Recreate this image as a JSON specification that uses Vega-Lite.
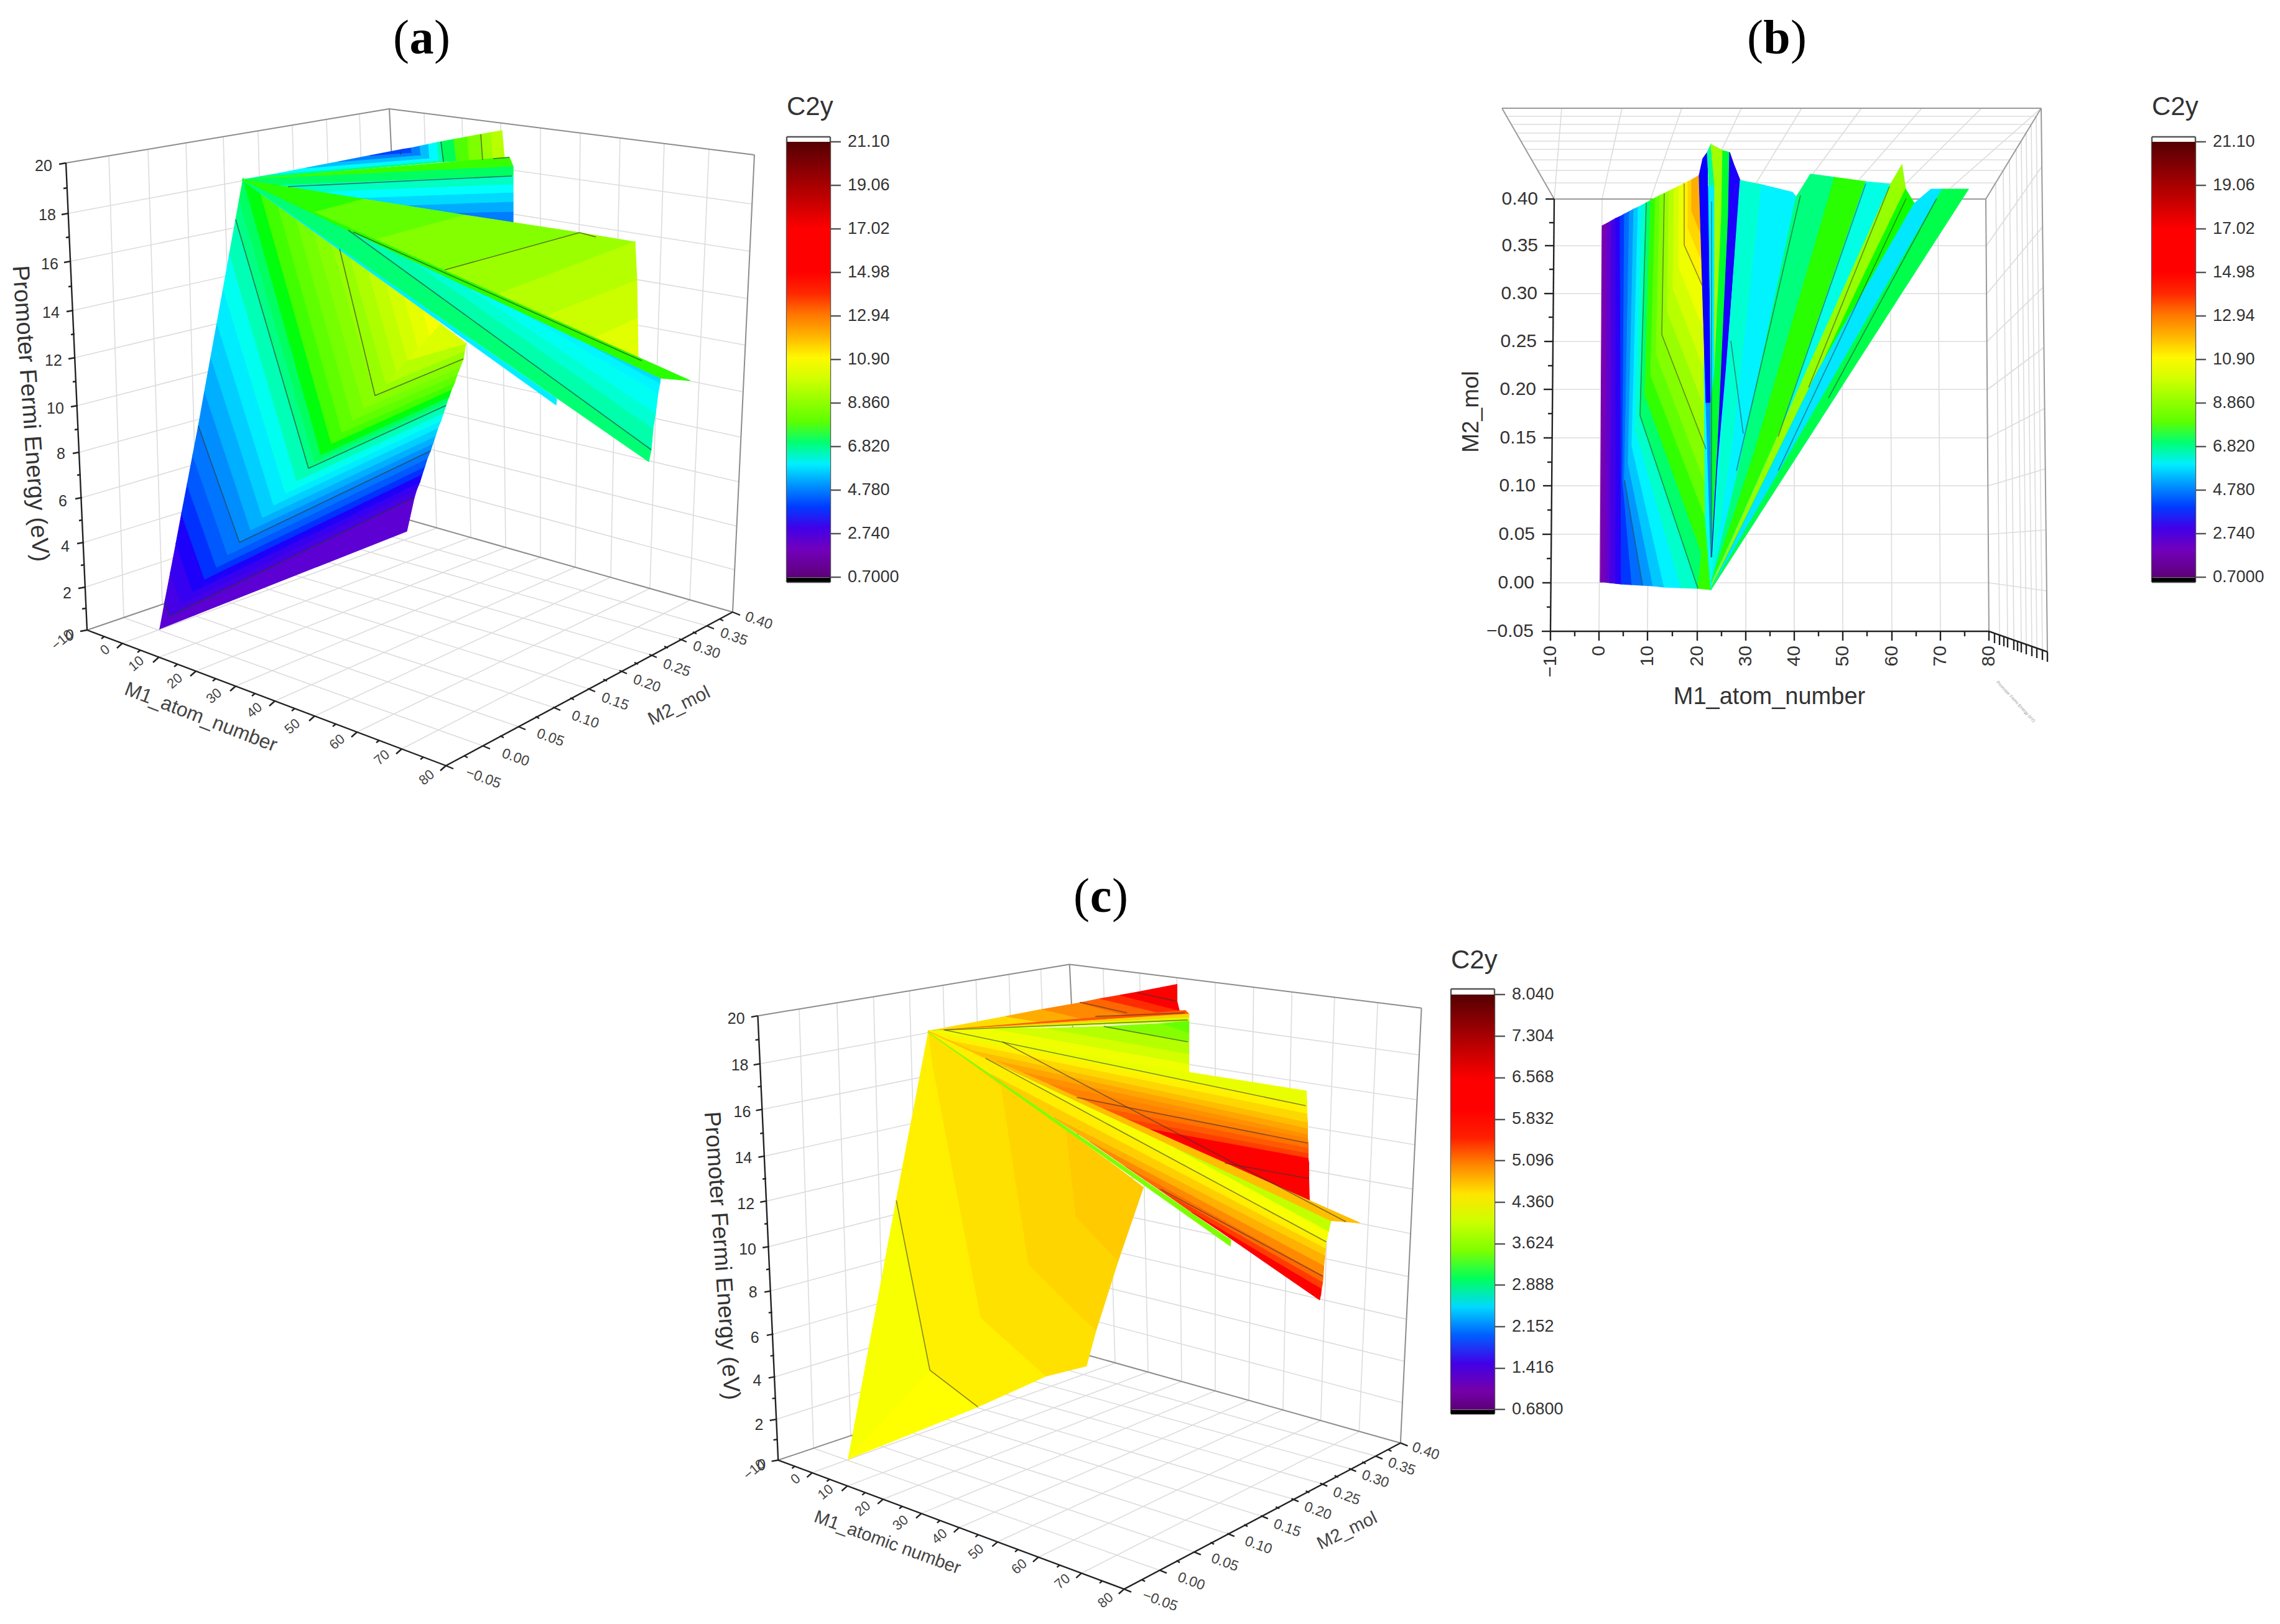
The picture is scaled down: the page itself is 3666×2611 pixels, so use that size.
{
"$schema":"https://vega.github.io/schema/vega-lite/v6.json",
"width":3666,"height":2611,"padding":0,"autosize":{"type":"fit","contains":"padding"},"background":"white",
"config":{"view":{"stroke":null}},
"datasets":{
"grid3":[
{"x":110,"y":343,"u":629,"v":246},{"x":114,"y":420,"u":632,"v":314},{"x":118,"y":499,"u":636,"v":383},{"x":121,"y":575,"u":639,"v":451},{"x":125,"y":652,"u":643,"v":518},{"x":128,"y":727,"u":646,"v":584},{"x":132,"y":800,"u":649,"v":648},{"x":135,"y":872,"u":651,"v":712},{"x":137,"y":944,"u":654,"v":774},
{"x":629,"y":246,"u":1209,"v":328},{"x":632,"y":314,"u":1206,"v":404},{"x":636,"y":383,"u":1202,"v":480},{"x":639,"y":451,"u":1199,"v":555},{"x":643,"y":518,"u":1195,"v":630},{"x":646,"y":584,"u":1192,"v":703},{"x":649,"y":648,"u":1189,"v":775},{"x":651,"y":712,"u":1185,"v":846},{"x":654,"y":774,"u":1181,"v":916},
{"x":175,"y":250,"u":199,"v":993},{"x":238,"y":240,"u":261,"v":972},{"x":299,"y":229,"u":319,"v":952},{"x":359,"y":219,"u":379,"v":931},{"x":415,"y":210,"u":434,"v":913},{"x":470,"y":201,"u":490,"v":893},{"x":525,"y":192,"u":546,"v":874},{"x":578,"y":183,"u":602,"v":855},
{"x":682,"y":182,"u":702,"v":849},{"x":743,"y":190,"u":757,"v":864},{"x":805,"y":198,"u":813,"v":880},{"x":869,"y":206,"u":869,"v":896},{"x":933,"y":214,"u":925,"v":912},{"x":997,"y":222,"u":982,"v":928},{"x":1068,"y":231,"u":1045,"v":946},{"x":1140,"y":240,"u":1109,"v":965},
{"x":197,"y":1034,"u":702,"v":849},{"x":255,"y":1057,"u":757,"v":864},{"x":315,"y":1079,"u":813,"v":880},{"x":379,"y":1103,"u":869,"v":896},{"x":442,"y":1127,"u":925,"v":912},{"x":506,"y":1151,"u":982,"v":928},{"x":574,"y":1177,"u":1045,"v":946},{"x":646,"y":1204,"u":1109,"v":965},
{"x":199,"y":993,"u":776,"v":1199},{"x":261,"y":972,"u":833,"v":1168},{"x":319,"y":952,"u":889,"v":1137},{"x":379,"y":931,"u":945,"v":1107},{"x":434,"y":913,"u":996,"v":1078},{"x":490,"y":893,"u":1044,"v":1052},{"x":546,"y":874,"u":1092,"v":1027},{"x":602,"y":855,"u":1136,"v":1006}],
"box3":[{"x":106,"y":262,"u":626,"v":175},{"x":626,"y":175,"u":1213,"v":249},{"x":626,"y":175,"u":658,"v":836},{"x":658,"y":836,"u":1178,"v":984},{"x":140,"y":1013,"u":658,"v":836},{"x":1213,"y":249,"u":1178,"v":984}],
"ax3":[{"x":106,"y":262,"u":140,"v":1013},{"x":140,"y":1013,"u":717,"v":1231},{"x":717,"y":1231,"u":1178,"v":984},
{"x":106,"y":262,"u":95,"v":264},{"x":110,"y":343,"u":99,"v":345},{"x":114,"y":420,"u":103,"v":422},{"x":118,"y":499,"u":107,"v":501},{"x":121,"y":575,"u":110,"v":577},{"x":125,"y":652,"u":114,"v":654},{"x":128,"y":727,"u":117,"v":729},{"x":132,"y":800,"u":121,"v":802},{"x":135,"y":872,"u":124,"v":874},{"x":137,"y":944,"u":126,"v":946},{"x":140,"y":1013,"u":129,"v":1015},
{"x":108,"y":302,"u":102,"v":303},{"x":112,"y":381,"u":106,"v":382},{"x":116,"y":460,"u":110,"v":461},{"x":120,"y":537,"u":114,"v":538},{"x":123,"y":613,"u":117,"v":614},{"x":126,"y":690,"u":120,"v":691},{"x":130,"y":763,"u":124,"v":764},{"x":133,"y":836,"u":127,"v":837},{"x":136,"y":908,"u":130,"v":909},{"x":138,"y":978,"u":132,"v":979},
{"x":197,"y":1034,"u":188,"v":1042},{"x":255,"y":1057,"u":246,"v":1065},{"x":315,"y":1079,"u":306,"v":1087},{"x":379,"y":1103,"u":370,"v":1111},{"x":442,"y":1127,"u":433,"v":1135},{"x":506,"y":1151,"u":497,"v":1159},{"x":574,"y":1177,"u":565,"v":1185},{"x":646,"y":1204,"u":637,"v":1212},{"x":717,"y":1231,"u":708,"v":1239},
{"x":168,"y":1023,"u":163,"v":1027},{"x":226,"y":1045,"u":221,"v":1049},{"x":285,"y":1068,"u":280,"v":1072},{"x":347,"y":1091,"u":342,"v":1095},{"x":410,"y":1115,"u":405,"v":1119},{"x":474,"y":1139,"u":469,"v":1143},{"x":540,"y":1164,"u":535,"v":1168},{"x":610,"y":1190,"u":605,"v":1194},{"x":681,"y":1217,"u":676,"v":1221},
{"x":717,"y":1231,"u":729,"v":1236},{"x":776,"y":1199,"u":788,"v":1204},{"x":833,"y":1168,"u":845,"v":1173},{"x":889,"y":1137,"u":901,"v":1142},{"x":945,"y":1107,"u":957,"v":1112},{"x":996,"y":1078,"u":1008,"v":1083},{"x":1044,"y":1052,"u":1056,"v":1057},{"x":1092,"y":1027,"u":1104,"v":1032},{"x":1136,"y":1006,"u":1148,"v":1011},{"x":1178,"y":984,"u":1190,"v":989},
{"x":746,"y":1215,"u":752,"v":1218},{"x":804,"y":1183,"u":810,"v":1186},{"x":861,"y":1152,"u":867,"v":1155},{"x":917,"y":1122,"u":923,"v":1125},{"x":970,"y":1092,"u":976,"v":1095},{"x":1020,"y":1065,"u":1026,"v":1068},{"x":1068,"y":1039,"u":1074,"v":1042},{"x":1114,"y":1016,"u":1120,"v":1019},{"x":1157,"y":995,"u":1163,"v":998}],
"zlab":[{"x":70,"y":267,"t":"20"},{"x":76,"y":346,"t":"18"},{"x":80,"y":425,"t":"16"},{"x":82,"y":503,"t":"14"},{"x":86,"y":580,"t":"12"},{"x":89,"y":657,"t":"10"},{"x":98,"y":730,"t":"8"},{"x":101,"y":806,"t":"6"},{"x":105,"y":879,"t":"4"},{"x":108,"y":954,"t":"2"},{"x":112,"y":1022,"t":"0"}],
"m1lab":[{"x":100,"y":1029,"t":"−10"},{"x":169,"y":1045,"t":"0"},{"x":219,"y":1067,"t":"10"},{"x":281,"y":1095,"t":"20"},{"x":344,"y":1119,"t":"30"},{"x":409,"y":1142,"t":"40"},{"x":470,"y":1168,"t":"50"},{"x":542,"y":1193,"t":"60"},{"x":614,"y":1218,"t":"70"},{"x":686,"y":1250,"t":"80"}],
"m2lab":[{"x":1220,"y":998,"t":"0.40"},{"x":1180,"y":1024,"t":"0.35"},{"x":1136,"y":1045,"t":"0.30"},{"x":1088,"y":1074,"t":"0.25"},{"x":1040,"y":1099,"t":"0.20"},{"x":989,"y":1128,"t":"0.15"},{"x":941,"y":1157,"t":"0.10"},{"x":885,"y":1186,"t":"0.05"},{"x":829,"y":1218,"t":"0.00"},{"x":777,"y":1251,"t":"−0.05"}],
"surfA":[
{"p":1,"x":257,"y":1011,"c":2.58},{"p":1,"x":273,"y":991,"c":2.58},{"p":1,"x":265,"y":968,"c":2.58},
{"p":2,"x":265,"y":968,"c":2.91},{"p":2,"x":273,"y":991,"c":2.91},{"p":2,"x":291,"y":971,"c":2.91},{"p":2,"x":274,"y":921,"c":2.91},
{"p":3,"x":274,"y":921,"c":3.25},{"p":3,"x":291,"y":971,"c":3.25},{"p":3,"x":310,"y":951,"c":3.25},{"p":3,"x":283,"y":874,"c":3.25},
{"p":4,"x":283,"y":874,"c":3.59},{"p":4,"x":310,"y":951,"c":3.59},{"p":4,"x":329,"y":931,"c":3.59},{"p":4,"x":292,"y":826,"c":3.59},
{"p":5,"x":292,"y":826,"c":3.93},{"p":5,"x":329,"y":931,"c":3.93},{"p":5,"x":348,"y":912,"c":3.93},{"p":5,"x":301,"y":779,"c":3.93},
{"p":6,"x":301,"y":779,"c":4.27},{"p":6,"x":348,"y":912,"c":4.27},{"p":6,"x":366,"y":892,"c":4.27},{"p":6,"x":310,"y":732,"c":4.27},
{"p":7,"x":310,"y":732,"c":4.61},{"p":7,"x":366,"y":892,"c":4.61},{"p":7,"x":385,"y":872,"c":4.61},{"p":7,"x":319,"y":685,"c":4.61},
{"p":8,"x":319,"y":685,"c":4.95},{"p":8,"x":385,"y":872,"c":4.95},{"p":8,"x":403,"y":852,"c":4.95},{"p":8,"x":329,"y":629,"c":4.95},
{"p":9,"x":329,"y":629,"c":5.29},{"p":9,"x":403,"y":852,"c":5.29},{"p":9,"x":422,"y":832,"c":5.29},{"p":9,"x":339,"y":574,"c":5.29},
{"p":10,"x":339,"y":574,"c":5.63},{"p":10,"x":422,"y":832,"c":5.63},{"p":10,"x":440,"y":812,"c":5.63},{"p":10,"x":349,"y":519,"c":5.63},
{"p":11,"x":349,"y":519,"c":5.97},{"p":11,"x":440,"y":812,"c":5.97},{"p":11,"x":459,"y":793,"c":5.97},{"p":11,"x":359,"y":464,"c":5.97},
{"p":12,"x":359,"y":464,"c":6.31},{"p":12,"x":459,"y":793,"c":6.31},{"p":12,"x":477,"y":773,"c":6.31},{"p":12,"x":369,"y":408,"c":6.31},
{"p":13,"x":369,"y":408,"c":6.65},{"p":13,"x":477,"y":773,"c":6.65},{"p":13,"x":496,"y":753,"c":6.65},{"p":13,"x":379,"y":353,"c":6.65},
{"p":14,"x":379,"y":353,"c":6.91},{"p":14,"x":496,"y":753,"c":6.91},{"p":14,"x":506,"y":742,"c":6.91},{"p":14,"x":385,"y":320,"c":6.91},
{"p":15,"x":385,"y":320,"c":7.1},{"p":15,"x":506,"y":742,"c":7.1},{"p":15,"x":516,"y":731,"c":7.1},{"p":15,"x":391,"y":287,"c":7.1},
{"p":16,"x":391,"y":287,"c":7.36},{"p":16,"x":516,"y":731,"c":7.36},{"p":16,"x":533,"y":713,"c":7.36},{"p":16,"x":418,"y":307,"c":7.36},
{"p":17,"x":418,"y":307,"c":7.68},{"p":17,"x":533,"y":713,"c":7.68},{"p":17,"x":550,"y":695,"c":7.68},{"p":17,"x":446,"y":327,"c":7.68},
{"p":18,"x":446,"y":327,"c":8.01},{"p":18,"x":550,"y":695,"c":8.01},{"p":18,"x":567,"y":675,"c":8.01},{"p":18,"x":475,"y":348,"c":8.01},
{"p":19,"x":475,"y":348,"c":8.35},{"p":19,"x":567,"y":675,"c":8.35},{"p":19,"x":585,"y":656,"c":8.35},{"p":19,"x":504,"y":370,"c":8.35},
{"p":20,"x":504,"y":370,"c":8.69},{"p":20,"x":585,"y":656,"c":8.69},{"p":20,"x":603,"y":636,"c":8.69},{"p":20,"x":533,"y":391,"c":8.69},
{"p":21,"x":533,"y":391,"c":9.03},{"p":21,"x":603,"y":636,"c":9.03},{"p":21,"x":621,"y":617,"c":9.03},{"p":21,"x":563,"y":413,"c":9.03},
{"p":22,"x":563,"y":413,"c":9.37},{"p":22,"x":621,"y":617,"c":9.37},{"p":22,"x":638,"y":598,"c":9.37},{"p":22,"x":592,"y":434,"c":9.37},
{"p":23,"x":592,"y":434,"c":9.71},{"p":23,"x":638,"y":598,"c":9.71},{"p":23,"x":656,"y":579,"c":9.71},{"p":23,"x":621,"y":455,"c":9.71},
{"p":24,"x":621,"y":455,"c":10.05},{"p":24,"x":656,"y":579,"c":10.05},{"p":24,"x":673,"y":559,"c":10.05},{"p":24,"x":650,"y":476,"c":10.05},
{"p":25,"x":650,"y":476,"c":10.39},{"p":25,"x":673,"y":559,"c":10.39},{"p":25,"x":691,"y":540,"c":10.39},{"p":25,"x":680,"y":498,"c":10.39},
{"p":26,"x":680,"y":498,"c":10.73},{"p":26,"x":691,"y":540,"c":10.73},{"p":26,"x":709,"y":521,"c":10.73},
{"p":101,"x":257,"y":1011,"c":2.5},{"p":101,"x":654,"y":854,"c":2.5},{"p":101,"x":666,"y":800,"c":2.5},{"p":101,"x":273,"y":991,"c":2.5},
{"p":102,"x":273,"y":991,"c":2.91},{"p":102,"x":666,"y":800,"c":2.91},{"p":102,"x":670,"y":787,"c":2.91},{"p":102,"x":291,"y":971,"c":2.91},
{"p":103,"x":291,"y":971,"c":3.25},{"p":103,"x":670,"y":787,"c":3.25},{"p":103,"x":675,"y":775,"c":3.25},{"p":103,"x":310,"y":951,"c":3.25},
{"p":104,"x":310,"y":951,"c":3.59},{"p":104,"x":675,"y":775,"c":3.59},{"p":104,"x":679,"y":762,"c":3.59},{"p":104,"x":329,"y":931,"c":3.59},
{"p":105,"x":329,"y":931,"c":3.93},{"p":105,"x":679,"y":762,"c":3.93},{"p":105,"x":683,"y":750,"c":3.93},{"p":105,"x":348,"y":912,"c":3.93},
{"p":106,"x":348,"y":912,"c":4.27},{"p":106,"x":683,"y":750,"c":4.27},{"p":106,"x":687,"y":737,"c":4.27},{"p":106,"x":366,"y":892,"c":4.27},
{"p":107,"x":366,"y":892,"c":4.61},{"p":107,"x":687,"y":737,"c":4.61},{"p":107,"x":692,"y":725,"c":4.61},{"p":107,"x":385,"y":872,"c":4.61},
{"p":108,"x":385,"y":872,"c":4.95},{"p":108,"x":692,"y":725,"c":4.95},{"p":108,"x":696,"y":713,"c":4.95},{"p":108,"x":403,"y":852,"c":4.95},
{"p":109,"x":403,"y":852,"c":5.29},{"p":109,"x":696,"y":713,"c":5.29},{"p":109,"x":700,"y":701,"c":5.29},{"p":109,"x":422,"y":832,"c":5.29},
{"p":110,"x":422,"y":832,"c":5.63},{"p":110,"x":700,"y":701,"c":5.63},{"p":110,"x":704,"y":688,"c":5.63},{"p":110,"x":440,"y":812,"c":5.63},
{"p":111,"x":440,"y":812,"c":5.97},{"p":111,"x":704,"y":688,"c":5.97},{"p":111,"x":709,"y":676,"c":5.97},{"p":111,"x":459,"y":793,"c":5.97},
{"p":112,"x":459,"y":793,"c":6.31},{"p":112,"x":709,"y":676,"c":6.31},{"p":112,"x":713,"y":664,"c":6.31},{"p":112,"x":477,"y":773,"c":6.31},
{"p":113,"x":477,"y":773,"c":6.65},{"p":113,"x":713,"y":664,"c":6.65},{"p":113,"x":717,"y":652,"c":6.65},{"p":113,"x":496,"y":753,"c":6.65},
{"p":114,"x":496,"y":753,"c":6.91},{"p":114,"x":717,"y":652,"c":6.91},{"p":114,"x":719,"y":645,"c":6.91},{"p":114,"x":506,"y":742,"c":6.91},
{"p":115,"x":506,"y":742,"c":7.1},{"p":115,"x":719,"y":645,"c":7.1},{"p":115,"x":722,"y":638,"c":7.1},{"p":115,"x":516,"y":731,"c":7.1},
{"p":116,"x":516,"y":731,"c":7.36},{"p":116,"x":722,"y":638,"c":7.36},{"p":116,"x":726,"y":626,"c":7.36},{"p":116,"x":533,"y":713,"c":7.36},
{"p":117,"x":533,"y":713,"c":7.68},{"p":117,"x":726,"y":626,"c":7.68},{"p":117,"x":731,"y":615,"c":7.68},{"p":117,"x":550,"y":695,"c":7.68},
{"p":118,"x":550,"y":695,"c":8.01},{"p":118,"x":731,"y":615,"c":8.01},{"p":118,"x":735,"y":602,"c":8.01},{"p":118,"x":567,"y":675,"c":8.01},
{"p":119,"x":567,"y":675,"c":8.35},{"p":119,"x":735,"y":602,"c":8.35},{"p":119,"x":740,"y":590,"c":8.35},{"p":119,"x":585,"y":656,"c":8.35},
{"p":120,"x":585,"y":656,"c":8.69},{"p":120,"x":740,"y":590,"c":8.69},{"p":120,"x":745,"y":577,"c":8.69},{"p":120,"x":603,"y":636,"c":8.69},
{"p":121,"x":603,"y":636,"c":9.03},{"p":121,"x":745,"y":577,"c":9.03},{"p":121,"x":747,"y":564,"c":9.03},{"p":121,"x":621,"y":617,"c":9.03},
{"p":122,"x":621,"y":617,"c":9.5},{"p":122,"x":747,"y":564,"c":9.5},{"p":122,"x":749,"y":552,"c":9.5},{"p":122,"x":656,"y":579,"c":9.5},
{"p":123,"x":656,"y":579,"c":10.2},{"p":123,"x":749,"y":552,"c":10.2},{"p":123,"x":709,"y":521,"c":10.2},
{"p":28,"x":389,"y":289,"c":6.9},{"p":28,"x":441,"y":280,"c":6.9},{"p":28,"x":706,"y":258,"c":6.9},{"p":28,"x":713,"y":260,"c":6.9},
{"p":29,"x":492,"y":270,"c":6.15},{"p":29,"x":441,"y":280,"c":6.15},{"p":29,"x":706,"y":258,"c":6.15},{"p":29,"x":691,"y":254,"c":6.15},
{"p":30,"x":544,"y":260,"c":5.45},{"p":30,"x":492,"y":270,"c":5.45},{"p":30,"x":691,"y":254,"c":5.45},{"p":30,"x":677,"y":249,"c":5.45},
{"p":31,"x":595,"y":250,"c":4.75},{"p":31,"x":544,"y":260,"c":4.75},{"p":31,"x":677,"y":249,"c":4.75},{"p":31,"x":662,"y":245,"c":4.75},
{"p":32,"x":647,"y":240,"c":4.05},{"p":32,"x":595,"y":250,"c":4.05},{"p":32,"x":662,"y":245,"c":4.05},
{"p":33,"x":647,"y":240,"c":4.05},{"p":33,"x":662,"y":245,"c":4.05},{"p":33,"x":661,"y":238,"c":4.05},
{"p":34,"x":661,"y":238,"c":4.75},{"p":34,"x":662,"y":245,"c":4.75},{"p":34,"x":677,"y":249,"c":4.75},{"p":34,"x":675,"y":235,"c":4.75},
{"p":35,"x":675,"y":235,"c":5.45},{"p":35,"x":677,"y":249,"c":5.45},{"p":35,"x":691,"y":254,"c":5.45},{"p":35,"x":689,"y":232,"c":5.45},
{"p":36,"x":689,"y":232,"c":6.15},{"p":36,"x":691,"y":254,"c":6.15},{"p":36,"x":706,"y":258,"c":6.15},{"p":36,"x":703,"y":229,"c":6.15},
{"p":37,"x":703,"y":229,"c":6.7},{"p":37,"x":706,"y":258,"c":6.7},{"p":37,"x":713,"y":260,"c":6.7},{"p":37,"x":709,"y":228,"c":6.7},
{"p":38,"x":709,"y":228,"c":7.15},{"p":38,"x":713,"y":260,"c":7.15},{"p":38,"x":734,"y":259,"c":7.15},{"p":38,"x":730,"y":224,"c":7.15},
{"p":39,"x":730,"y":224,"c":7.85},{"p":39,"x":734,"y":259,"c":7.85},{"p":39,"x":755,"y":258,"c":7.85},{"p":39,"x":752,"y":220,"c":7.85},
{"p":40,"x":752,"y":220,"c":8.5},{"p":40,"x":755,"y":258,"c":8.5},{"p":40,"x":776,"y":257,"c":8.5},{"p":40,"x":773,"y":216,"c":8.5},
{"p":41,"x":773,"y":216,"c":9.1},{"p":41,"x":776,"y":257,"c":9.1},{"p":41,"x":793,"y":256,"c":9.1},{"p":41,"x":790,"y":213,"c":9.1},
{"p":42,"x":790,"y":213,"c":9.55},{"p":42,"x":793,"y":256,"c":9.55},{"p":42,"x":811,"y":255,"c":9.55},{"p":42,"x":807,"y":210,"c":9.55},
{"p":43,"x":389,"y":289,"c":7.6},{"p":43,"x":793,"y":255,"c":7.6},{"p":43,"x":819,"y":253,"c":7.6},{"p":43,"x":825,"y":268,"c":7.6},
{"p":44,"x":389,"y":289,"c":7.1},{"p":44,"x":825,"y":268,"c":7.1},{"p":44,"x":825,"y":283,"c":7.1},{"p":44,"x":449,"y":298,"c":7.1},
{"p":45,"x":449,"y":298,"c":6.6},{"p":45,"x":825,"y":283,"c":6.6},{"p":45,"x":825,"y":297,"c":6.6},{"p":45,"x":514,"y":309,"c":6.6},
{"p":46,"x":514,"y":309,"c":6.2},{"p":46,"x":825,"y":297,"c":6.2},{"p":46,"x":825,"y":310,"c":6.2},{"p":46,"x":576,"y":319,"c":6.2},
{"p":47,"x":576,"y":319,"c":5.75},{"p":47,"x":825,"y":310,"c":5.75},{"p":47,"x":825,"y":325,"c":5.75},{"p":47,"x":653,"y":331,"c":5.75},
{"p":48,"x":653,"y":331,"c":5.25},{"p":48,"x":825,"y":325,"c":5.25},{"p":48,"x":825,"y":341,"c":5.25},{"p":48,"x":732,"y":343,"c":5.25},
{"p":49,"x":732,"y":343,"c":4.7},{"p":49,"x":825,"y":341,"c":4.7},{"p":49,"x":825,"y":358,"c":4.7},
{"p":50,"x":389,"y":289,"c":7.5},{"p":50,"x":585,"y":320,"c":7.5},{"p":50,"x":507,"y":341,"c":7.5},
{"p":51,"x":507,"y":341,"c":8.05},{"p":51,"x":585,"y":320,"c":8.05},{"p":51,"x":748,"y":346,"c":8.05},{"p":51,"x":604,"y":385,"c":8.05},
{"p":52,"x":604,"y":385,"c":8.6},{"p":52,"x":748,"y":346,"c":8.6},{"p":52,"x":932,"y":374,"c":8.6},{"p":52,"x":715,"y":434,"c":8.6},
{"p":53,"x":715,"y":434,"c":9.1},{"p":53,"x":932,"y":374,"c":9.1},{"p":53,"x":1021,"y":389,"c":9.1},{"p":53,"x":800,"y":473,"c":9.1},
{"p":54,"x":800,"y":473,"c":9.5},{"p":54,"x":1021,"y":389,"c":9.5},{"p":54,"x":1024,"y":451,"c":9.5},{"p":54,"x":878,"y":508,"c":9.5},
{"p":55,"x":878,"y":508,"c":9.9},{"p":55,"x":1024,"y":451,"c":9.9},{"p":55,"x":1025,"y":512,"c":9.9},{"p":55,"x":956,"y":543,"c":9.9},
{"p":56,"x":956,"y":543,"c":10.3},{"p":56,"x":1025,"y":512,"c":10.3},{"p":56,"x":1026,"y":574,"c":10.3},
{"p":57,"x":389,"y":289,"c":6},{"p":57,"x":895,"y":641,"c":6},{"p":57,"x":894,"y":651,"c":6},
{"p":58,"x":389,"y":289,"c":7},{"p":58,"x":560,"y":370,"c":7},{"p":58,"x":1047,"y":723,"c":7},{"p":58,"x":1043,"y":742,"c":7},
{"p":59,"x":560,"y":370,"c":6.7},{"p":59,"x":658,"y":416,"c":6.7},{"p":59,"x":1050,"y":689,"c":6.7},{"p":59,"x":1047,"y":723,"c":6.7},
{"p":60,"x":658,"y":416,"c":6.5},{"p":60,"x":748,"y":459,"c":6.5},{"p":60,"x":1054,"y":664,"c":6.5},{"p":60,"x":1050,"y":689,"c":6.5},
{"p":61,"x":748,"y":459,"c":6.3},{"p":61,"x":838,"y":502,"c":6.3},{"p":61,"x":1058,"y":632,"c":6.3},{"p":61,"x":1054,"y":664,"c":6.3},
{"p":62,"x":838,"y":502,"c":6.07},{"p":62,"x":949,"y":555,"c":6.07},{"p":62,"x":1061,"y":616,"c":6.07},{"p":62,"x":1058,"y":632,"c":6.07},
{"p":63,"x":949,"y":555,"c":5.8},{"p":63,"x":1062,"y":608,"c":5.8},{"p":63,"x":1061,"y":616,"c":5.8},
{"p":64,"x":389,"y":289,"c":7.5},{"p":64,"x":1110,"y":612,"c":7.5},{"p":64,"x":1062,"y":608,"c":7.5}],
"contA":[{"x":265,"y":968,"u":273,"v":991},{"x":273,"y":991,"u":666,"v":800},{"x":319,"y":685,"u":385,"v":872},{"x":385,"y":872,"u":692,"v":725},{"x":379,"y":353,"u":496,"v":753},{"x":496,"y":753,"u":717,"v":652},{"x":546,"y":400,"u":603,"v":636},{"x":603,"y":636,"u":745,"v":577},{"x":644,"y":243,"u":644,"v":249},{"x":709,"y":228,"u":713,"v":260},{"x":773,"y":216,"u":776,"v":257},{"x":463,"y":300,"u":823,"v":283},{"x":793,"y":255,"u":819,"v":253},{"x":715,"y":434,"u":932,"v":374},{"x":932,"y":374,"u":958,"v":381},{"x":568,"y":373,"u":1032,"v":580},{"x":560,"y":370,"u":1047,"v":723}],
"surfC":[
{"p":1,"x":391,"y":287,"c":4.44},{"p":1,"x":337,"y":574,"c":4.44},{"p":1,"x":393,"y":861,"c":4.44},{"p":1,"x":478,"y":772,"c":4.44},{"p":1,"x":397,"y":341,"c":4.44},
{"p":2,"x":337,"y":574,"c":4.3},{"p":2,"x":257,"y":1011,"c":4.3},{"p":2,"x":393,"y":861,"c":4.3},
{"p":3,"x":391,"y":287,"c":4.52},{"p":3,"x":397,"y":341,"c":4.52},{"p":3,"x":478,"y":772,"c":4.52},{"p":3,"x":558,"y":683,"c":4.52},{"p":3,"x":512,"y":381,"c":4.52},
{"p":4,"x":391,"y":287,"c":4.58},{"p":4,"x":512,"y":381,"c":4.58},{"p":4,"x":558,"y":683,"c":4.58},{"p":4,"x":637,"y":602,"c":4.58},{"p":4,"x":620,"y":450,"c":4.58},
{"p":5,"x":391,"y":287,"c":4.64},{"p":5,"x":620,"y":450,"c":4.64},{"p":5,"x":637,"y":602,"c":4.64},{"p":5,"x":709,"y":521,"c":4.64},
{"p":6,"x":257,"y":1011,"c":4.36},{"p":6,"x":393,"y":861,"c":4.36},{"p":6,"x":473,"y":923,"c":4.36},
{"p":7,"x":393,"y":861,"c":4.44},{"p":7,"x":478,"y":772,"c":4.44},{"p":7,"x":587,"y":871,"c":4.44},{"p":7,"x":473,"y":923,"c":4.44},
{"p":8,"x":478,"y":772,"c":4.52},{"p":8,"x":558,"y":683,"c":4.52},{"p":8,"x":670,"y":794,"c":4.52},{"p":8,"x":654,"y":854,"c":4.52},{"p":8,"x":587,"y":871,"c":4.52},
{"p":9,"x":558,"y":683,"c":4.58},{"p":9,"x":637,"y":602,"c":4.58},{"p":9,"x":707,"y":676,"c":4.58},{"p":9,"x":670,"y":794,"c":4.58},
{"p":10,"x":637,"y":602,"c":4.64},{"p":10,"x":709,"y":521,"c":4.64},{"p":10,"x":749,"y":552,"c":4.64},{"p":10,"x":707,"y":676,"c":4.64},
{"p":11,"x":390,"y":288,"c":4.55},{"p":11,"x":520,"y":263,"c":4.55},{"p":11,"x":576,"y":272,"c":4.55},
{"p":12,"x":520,"y":263,"c":4.8},{"p":12,"x":581,"y":251,"c":4.8},{"p":12,"x":649,"y":267,"c":4.8},{"p":12,"x":576,"y":272,"c":4.8},
{"p":13,"x":581,"y":251,"c":5},{"p":13,"x":643,"y":240,"c":5},{"p":13,"x":722,"y":261,"c":5},{"p":13,"x":649,"y":267,"c":5},
{"p":14,"x":643,"y":240,"c":5.22},{"p":14,"x":677,"y":233,"c":5.22},{"p":14,"x":773,"y":256,"c":5.22},{"p":14,"x":722,"y":261,"c":5.22},
{"p":15,"x":677,"y":233,"c":5.47},{"p":15,"x":711,"y":227,"c":5.47},{"p":15,"x":809,"y":253,"c":5.47},{"p":15,"x":773,"y":256,"c":5.47},
{"p":16,"x":711,"y":227,"c":5.72},{"p":16,"x":739,"y":222,"c":5.72},{"p":16,"x":805,"y":237,"c":5.72},{"p":16,"x":809,"y":253,"c":5.72},
{"p":17,"x":739,"y":222,"c":6},{"p":17,"x":805,"y":209,"c":6},{"p":17,"x":805,"y":237,"c":6},
{"p":18,"x":390,"y":288,"c":5.3},{"p":18,"x":793,"y":255,"c":5.3},{"p":18,"x":819,"y":253,"c":5.3},{"p":18,"x":825,"y":259,"c":5.3},
{"p":19,"x":390,"y":288,"c":4.6},{"p":19,"x":825,"y":259,"c":4.6},{"p":19,"x":825,"y":265,"c":4.6},
{"p":20,"x":390,"y":288,"c":4.05},{"p":20,"x":825,"y":265,"c":4.05},{"p":20,"x":825,"y":271,"c":4.05},
{"p":21,"x":500,"y":284,"c":4.25},{"p":21,"x":390,"y":288,"c":4.25},{"p":21,"x":825,"y":358,"c":4.25},{"p":21,"x":825,"y":343,"c":4.25},
{"p":22,"x":590,"y":283,"c":4.05},{"p":22,"x":500,"y":284,"c":4.05},{"p":22,"x":825,"y":343,"c":4.05},{"p":22,"x":825,"y":326,"c":4.05},
{"p":23,"x":683,"y":280,"c":3.85},{"p":23,"x":590,"y":283,"c":3.85},{"p":23,"x":825,"y":326,"c":3.85},{"p":23,"x":825,"y":306,"c":3.85},
{"p":24,"x":780,"y":275,"c":3.55},{"p":24,"x":683,"y":280,"c":3.55},{"p":24,"x":825,"y":306,"c":3.55},{"p":24,"x":825,"y":290,"c":3.55},
{"p":25,"x":825,"y":271,"c":3.35},{"p":25,"x":780,"y":275,"c":3.35},{"p":25,"x":825,"y":290,"c":3.35},
{"p":26,"x":390,"y":288,"c":4.2},{"p":26,"x":1021,"y":389,"c":4.2},{"p":26,"x":1022,"y":414,"c":4.2},
{"p":27,"x":390,"y":288,"c":4.43},{"p":27,"x":1022,"y":414,"c":4.43},{"p":27,"x":1022,"y":428,"c":4.43},{"p":27,"x":426,"y":304,"c":4.43},
{"p":70,"x":426,"y":304,"c":4.57},{"p":70,"x":1022,"y":428,"c":4.57},{"p":70,"x":1023,"y":443,"c":4.57},{"p":70,"x":463,"y":321,"c":4.57},
{"p":28,"x":463,"y":321,"c":4.71},{"p":28,"x":1023,"y":443,"c":4.71},{"p":28,"x":1023,"y":453,"c":4.71},{"p":28,"x":505,"y":339,"c":4.71},
{"p":71,"x":505,"y":339,"c":4.84},{"p":71,"x":1023,"y":453,"c":4.84},{"p":71,"x":1023,"y":463,"c":4.84},{"p":71,"x":548,"y":358,"c":4.84},
{"p":29,"x":548,"y":358,"c":4.95},{"p":29,"x":1023,"y":463,"c":4.95},{"p":29,"x":1023,"y":470,"c":4.95},{"p":29,"x":593,"y":378,"c":4.95},
{"p":72,"x":593,"y":378,"c":5.05},{"p":72,"x":1023,"y":470,"c":5.05},{"p":72,"x":1024,"y":477,"c":5.05},{"p":72,"x":638,"y":399,"c":5.05},
{"p":30,"x":638,"y":399,"c":5.16},{"p":30,"x":1024,"y":477,"c":5.16},{"p":30,"x":1024,"y":486,"c":5.16},{"p":30,"x":680,"y":418,"c":5.16},
{"p":73,"x":680,"y":418,"c":5.29},{"p":73,"x":1024,"y":486,"c":5.29},{"p":73,"x":1024,"y":495,"c":5.29},{"p":73,"x":722,"y":437,"c":5.29},
{"p":31,"x":722,"y":437,"c":5.41},{"p":31,"x":1024,"y":495,"c":5.41},{"p":31,"x":1024,"y":503,"c":5.41},{"p":31,"x":761,"y":454,"c":5.41},
{"p":74,"x":761,"y":454,"c":5.54},{"p":74,"x":1024,"y":503,"c":5.54},{"p":74,"x":1025,"y":511,"c":5.54},{"p":74,"x":801,"y":472,"c":5.54},
{"p":32,"x":801,"y":472,"c":5.66},{"p":32,"x":1025,"y":511,"c":5.66},{"p":32,"x":1025,"y":524,"c":5.66},{"p":32,"x":843,"y":491,"c":5.66},
{"p":75,"x":843,"y":491,"c":5.78},{"p":75,"x":1025,"y":524,"c":5.78},{"p":75,"x":1025,"y":537,"c":5.78},{"p":75,"x":885,"y":510,"c":5.78},
{"p":33,"x":885,"y":510,"c":6.1},{"p":33,"x":1025,"y":537,"c":6.1},{"p":33,"x":1026,"y":574,"c":6.1},
{"p":34,"x":389,"y":289,"c":3.5},{"p":34,"x":895,"y":641,"c":3.5},{"p":34,"x":894,"y":651,"c":3.5},
{"p":35,"x":390,"y":288,"c":4.45},{"p":35,"x":486,"y":334,"c":4.45},{"p":35,"x":1054,"y":644,"c":4.45},{"p":35,"x":1053,"y":656,"c":4.45},{"p":35,"x":495,"y":361,"c":4.45},
{"p":76,"x":495,"y":361,"c":4.62},{"p":76,"x":1053,"y":656,"c":4.62},{"p":76,"x":1052,"y":668,"c":4.62},{"p":76,"x":600,"y":434,"c":4.62},
{"p":36,"x":600,"y":434,"c":4.78},{"p":36,"x":1052,"y":668,"c":4.78},{"p":36,"x":1050,"y":685,"c":4.78},{"p":36,"x":660,"y":475,"c":4.78},
{"p":77,"x":660,"y":475,"c":5},{"p":77,"x":1050,"y":685,"c":5},{"p":77,"x":1049,"y":702,"c":5},{"p":77,"x":720,"y":517,"c":5},
{"p":37,"x":720,"y":517,"c":5.2},{"p":37,"x":1049,"y":702,"c":5.2},{"p":37,"x":1048,"y":713,"c":5.2},{"p":37,"x":775,"y":555,"c":5.2},
{"p":78,"x":775,"y":555,"c":5.42},{"p":78,"x":1048,"y":713,"c":5.42},{"p":78,"x":1046,"y":724,"c":5.42},{"p":78,"x":830,"y":594,"c":5.42},
{"p":38,"x":830,"y":594,"c":5.6},{"p":38,"x":1046,"y":724,"c":5.6},{"p":38,"x":1045,"y":733,"c":5.6},{"p":38,"x":880,"y":628,"c":5.6},
{"p":79,"x":880,"y":628,"c":5.85},{"p":79,"x":1045,"y":733,"c":5.85},{"p":79,"x":1043,"y":742,"c":5.85},{"p":79,"x":930,"y":663,"c":5.85},
{"p":39,"x":486,"y":334,"c":4.3},{"p":39,"x":800,"y":484,"c":4.3},{"p":39,"x":1058,"y":626,"c":4.3},{"p":39,"x":1054,"y":644,"c":4.3},
{"p":40,"x":800,"y":484,"c":3.95},{"p":40,"x":1062,"y":608,"c":3.95},{"p":40,"x":1058,"y":626,"c":3.95},
{"p":41,"x":390,"y":288,"c":4.7},{"p":41,"x":1110,"y":612,"c":4.7},{"p":41,"x":1062,"y":608,"c":4.7}],
"contC":[{"x":337,"y":574,"u":393,"v":861},{"x":393,"y":861,"u":473,"v":923},{"x":643,"y":239,"u":722,"v":257},{"x":739,"y":223,"u":803,"v":237},{"x":416,"y":286,"u":823,"v":269},{"x":683,"y":280,"u":823,"v":306},{"x":669,"y":263,"u":818,"v":257},{"x":418,"y":286,"u":1020,"v":414},{"x":638,"y":400,"u":1023,"v":477},{"x":885,"y":511,"u":1025,"v":537},{"x":486,"y":334,"u":1054,"v":644},{"x":778,"y":555,"u":1048,"v":702},{"x":514,"y":306,"u":1087,"v":610}],
"gridB":[
{"x":2497,"y":395,"u":3194,"v":395},{"x":2497,"y":472,"u":3195,"v":472},{"x":2496,"y":549,"u":3195,"v":549},{"x":2496,"y":626,"u":3196,"v":626},{"x":2495,"y":704,"u":3196,"v":704},{"x":2495,"y":781,"u":3197,"v":781},{"x":2494,"y":859,"u":3197,"v":859},{"x":2494,"y":937,"u":3198,"v":937},
{"x":2571,"y":1015,"u":2576,"v":320},{"x":2649,"y":1015,"u":2654,"v":320},{"x":2729,"y":1015,"u":2731,"v":320},{"x":2807,"y":1015,"u":2808,"v":320},{"x":2885,"y":1015,"u":2885,"v":320},{"x":2963,"y":1015,"u":2962,"v":320},{"x":3042,"y":1015,"u":3039,"v":320},{"x":3120,"y":1015,"u":3116,"v":320},
{"x":2499,"y":320,"u":2511,"v":174},{"x":2576,"y":320,"u":2608,"v":174},{"x":2654,"y":320,"u":2704,"v":174},{"x":2731,"y":320,"u":2800,"v":174},{"x":2808,"y":320,"u":2897,"v":174},{"x":2885,"y":320,"u":2993,"v":174},{"x":2962,"y":320,"u":3090,"v":174},{"x":3039,"y":320,"u":3186,"v":174},{"x":3116,"y":320,"u":3282,"v":174},
{"x":2422,"y":187,"u":3274,"v":187},{"x":2430,"y":200,"u":3266,"v":200},{"x":2438,"y":214,"u":3258,"v":214},{"x":2445,"y":227,"u":3250,"v":227},{"x":2453,"y":240,"u":3242,"v":240},{"x":2463,"y":257,"u":3231,"v":257},{"x":2473,"y":274,"u":3221,"v":274},{"x":2485,"y":294,"u":3209,"v":294},
{"x":3194,"y":395,"u":3283,"v":268},{"x":3195,"y":472,"u":3284,"v":365},{"x":3195,"y":549,"u":3285,"v":462},{"x":3196,"y":626,"u":3286,"v":559},{"x":3196,"y":704,"u":3287,"v":657},{"x":3197,"y":781,"u":3288,"v":754},{"x":3197,"y":859,"u":3290,"v":852},{"x":3198,"y":937,"u":3291,"v":950},
{"x":3209,"y":294,"u":3215,"v":1021},{"x":3221,"y":274,"u":3228,"v":1025},{"x":3231,"y":257,"u":3238,"v":1029},{"x":3242,"y":240,"u":3250,"v":1033},{"x":3250,"y":227,"u":3258,"v":1036},{"x":3258,"y":213,"u":3267,"v":1039},{"x":3266,"y":200,"u":3275,"v":1042},{"x":3274,"y":187,"u":3284,"v":1045}],
"boxB":[{"x":2499,"y":320,"u":2415,"v":174},{"x":2415,"y":174,"u":3282,"v":174},{"x":3282,"y":174,"u":3193,"v":320},{"x":2499,"y":320,"u":3193,"v":320},{"x":3193,"y":320,"u":3198,"v":1015},{"x":3282,"y":174,"u":3292,"v":1048}],
"axB":[{"x":2499,"y":320,"u":2493,"v":1015},{"x":2493,"y":1015,"u":3198,"v":1015},{"x":3198,"y":1015,"u":3292,"v":1048},
{"x":2499,"y":320,"u":2485,"v":320},{"x":2498,"y":395,"u":2484,"v":395},{"x":2497,"y":472,"u":2483,"v":472},{"x":2497,"y":549,"u":2483,"v":549},{"x":2496,"y":626,"u":2482,"v":626},{"x":2496,"y":704,"u":2482,"v":704},{"x":2495,"y":781,"u":2481,"v":781},{"x":2494,"y":859,"u":2480,"v":859},{"x":2494,"y":937,"u":2480,"v":937},{"x":2493,"y":1015,"u":2479,"v":1015},
{"x":2498,"y":358,"u":2491,"v":358},{"x":2498,"y":433,"u":2491,"v":433},{"x":2497,"y":510,"u":2490,"v":510},{"x":2496,"y":588,"u":2489,"v":588},{"x":2496,"y":665,"u":2489,"v":665},{"x":2495,"y":743,"u":2488,"v":743},{"x":2495,"y":820,"u":2488,"v":820},{"x":2494,"y":898,"u":2487,"v":898},{"x":2494,"y":976,"u":2487,"v":976},
{"x":2493,"y":1015,"u":2493,"v":1030},{"x":2571,"y":1015,"u":2571,"v":1030},{"x":2649,"y":1015,"u":2649,"v":1030},{"x":2729,"y":1015,"u":2729,"v":1030},{"x":2807,"y":1015,"u":2807,"v":1030},{"x":2885,"y":1015,"u":2885,"v":1030},{"x":2963,"y":1015,"u":2963,"v":1030},{"x":3042,"y":1015,"u":3042,"v":1030},{"x":3120,"y":1015,"u":3120,"v":1030},{"x":3198,"y":1015,"u":3198,"v":1030},
{"x":2532,"y":1015,"u":2532,"v":1023},{"x":2610,"y":1015,"u":2610,"v":1023},{"x":2689,"y":1015,"u":2689,"v":1023},{"x":2768,"y":1015,"u":2768,"v":1023},{"x":2846,"y":1015,"u":2846,"v":1023},{"x":2924,"y":1015,"u":2924,"v":1023},{"x":3002,"y":1015,"u":3002,"v":1023},{"x":3081,"y":1015,"u":3081,"v":1023},{"x":3159,"y":1015,"u":3159,"v":1023},
{"x":3207,"y":1018,"u":3207,"v":1034},{"x":3215,"y":1021,"u":3215,"v":1037},{"x":3222,"y":1023,"u":3222,"v":1039},{"x":3228,"y":1025,"u":3228,"v":1041},{"x":3238,"y":1029,"u":3238,"v":1045},{"x":3244,"y":1031,"u":3244,"v":1047},{"x":3250,"y":1033,"u":3250,"v":1049},{"x":3258,"y":1036,"u":3258,"v":1052},{"x":3267,"y":1039,"u":3267,"v":1055},{"x":3275,"y":1042,"u":3275,"v":1058},{"x":3284,"y":1045,"u":3284,"v":1061},{"x":3292,"y":1048,"u":3292,"v":1064}],
"ylabB":[{"x":2473,"y":320,"t":"0.40"},{"x":2473,"y":395,"t":"0.35"},{"x":2472,"y":472,"t":"0.30"},{"x":2471,"y":549,"t":"0.25"},{"x":2470,"y":626,"t":"0.20"},{"x":2470,"y":704,"t":"0.15"},{"x":2469,"y":781,"t":"0.10"},{"x":2468,"y":859,"t":"0.05"},{"x":2467,"y":937,"t":"0.00"},{"x":2466,"y":1015,"t":"−0.05"}],
"xlabB":[{"x":2493,"y":1038,"t":"−10"},{"x":2571,"y":1038,"t":"0"},{"x":2649,"y":1038,"t":"10"},{"x":2729,"y":1038,"t":"20"},{"x":2807,"y":1038,"t":"30"},{"x":2885,"y":1038,"t":"40"},{"x":2963,"y":1038,"t":"50"},{"x":3042,"y":1038,"t":"60"},{"x":3120,"y":1038,"t":"70"},{"x":3198,"y":1038,"t":"80"}],
"surfB":[
{"p":1,"x":2576,"y":363,"c":1.8},{"p":1,"x":2584,"y":359,"c":1.8},{"p":1,"x":2581,"y":936,"c":1.8},{"p":1,"x":2573,"y":936,"c":1.8},
{"p":31,"x":2584,"y":359,"c":2.4},{"p":31,"x":2591,"y":355,"c":2.4},{"p":31,"x":2589,"y":937,"c":2.4},{"p":31,"x":2581,"y":936,"c":2.4},
{"p":2,"x":2591,"y":355,"c":2.95},{"p":2,"x":2598,"y":351,"c":2.95},{"p":2,"x":2598,"y":938,"c":2.95},{"p":2,"x":2589,"y":937,"c":2.95},
{"p":32,"x":2598,"y":351,"c":3.45},{"p":32,"x":2605,"y":348,"c":3.45},{"p":32,"x":2607,"y":939,"c":3.45},{"p":32,"x":2598,"y":938,"c":3.45},
{"p":3,"x":2605,"y":348,"c":3.97},{"p":3,"x":2612,"y":344,"c":3.97},{"p":3,"x":2609,"y":772,"c":3.97},{"p":3,"x":2624,"y":940,"c":3.97},{"p":3,"x":2607,"y":939,"c":3.97},
{"p":33,"x":2612,"y":344,"c":4.51},{"p":33,"x":2620,"y":340,"c":4.51},{"p":33,"x":2612,"y":772,"c":4.51},{"p":33,"x":2641,"y":941,"c":4.51},{"p":33,"x":2624,"y":940,"c":4.51},{"p":33,"x":2609,"y":772,"c":4.51},
{"p":4,"x":2620,"y":340,"c":5.05},{"p":4,"x":2627,"y":336,"c":5.05},{"p":4,"x":2618,"y":745,"c":5.05},{"p":4,"x":2658,"y":942,"c":5.05},{"p":4,"x":2641,"y":941,"c":5.05},{"p":4,"x":2612,"y":772,"c":5.05},
{"p":34,"x":2627,"y":336,"c":5.55},{"p":34,"x":2634,"y":333,"c":5.55},{"p":34,"x":2624,"y":717,"c":5.55},{"p":34,"x":2676,"y":944,"c":5.55},{"p":34,"x":2658,"y":942,"c":5.55},{"p":34,"x":2618,"y":745,"c":5.55},
{"p":5,"x":2634,"y":333,"c":6.05},{"p":5,"x":2640,"y":330,"c":6.05},{"p":5,"x":2630,"y":692,"c":6.05},{"p":5,"x":2703,"y":945,"c":6.05},{"p":5,"x":2676,"y":944,"c":6.05},{"p":5,"x":2624,"y":717,"c":6.05},
{"p":35,"x":2640,"y":330,"c":6.55},{"p":35,"x":2647,"y":326,"c":6.55},{"p":35,"x":2637,"y":668,"c":6.55},{"p":35,"x":2730,"y":946,"c":6.55},{"p":35,"x":2703,"y":945,"c":6.55},{"p":35,"x":2630,"y":692,"c":6.55},
{"p":6,"x":2647,"y":326,"c":7.05},{"p":6,"x":2654,"y":322,"c":7.05},{"p":6,"x":2645,"y":635,"c":7.05},{"p":6,"x":2736,"y":889,"c":7.05},{"p":6,"x":2730,"y":946,"c":7.05},{"p":6,"x":2637,"y":668,"c":7.05},
{"p":36,"x":2654,"y":322,"c":7.55},{"p":36,"x":2662,"y":318,"c":7.55},{"p":36,"x":2654,"y":603,"c":7.55},{"p":36,"x":2742,"y":832,"c":7.55},{"p":36,"x":2751,"y":948,"c":7.55},{"p":36,"x":2730,"y":946,"c":7.55},{"p":36,"x":2736,"y":889,"c":7.55},{"p":36,"x":2645,"y":635,"c":7.55},
{"p":7,"x":2662,"y":318,"c":8.05},{"p":7,"x":2669,"y":314,"c":8.05},{"p":7,"x":2663,"y":570,"c":8.05},{"p":7,"x":2742,"y":777,"c":8.05},{"p":7,"x":2742,"y":832,"c":8.05},{"p":7,"x":2654,"y":603,"c":8.05},
{"p":37,"x":2669,"y":314,"c":8.6},{"p":37,"x":2676,"y":311,"c":8.6},{"p":37,"x":2672,"y":538,"c":8.6},{"p":37,"x":2743,"y":722,"c":8.6},{"p":37,"x":2742,"y":777,"c":8.6},{"p":37,"x":2663,"y":570,"c":8.6},
{"p":8,"x":2676,"y":311,"c":9.05},{"p":8,"x":2684,"y":307,"c":9.05},{"p":8,"x":2681,"y":501,"c":9.05},{"p":8,"x":2742,"y":657,"c":9.05},{"p":8,"x":2743,"y":722,"c":9.05},{"p":8,"x":2672,"y":538,"c":9.05},
{"p":38,"x":2684,"y":307,"c":9.55},{"p":38,"x":2692,"y":303,"c":9.55},{"p":38,"x":2690,"y":464,"c":9.55},{"p":38,"x":2740,"y":593,"c":9.55},{"p":38,"x":2742,"y":657,"c":9.55},{"p":38,"x":2681,"y":501,"c":9.55},
{"p":9,"x":2692,"y":303,"c":10.05},{"p":9,"x":2700,"y":299,"c":10.05},{"p":9,"x":2699,"y":429,"c":10.05},{"p":9,"x":2738,"y":526,"c":10.05},{"p":9,"x":2740,"y":593,"c":10.05},{"p":9,"x":2690,"y":464,"c":10.05},
{"p":39,"x":2700,"y":299,"c":10.55},{"p":39,"x":2708,"y":295,"c":10.55},{"p":39,"x":2708,"y":394,"c":10.55},{"p":39,"x":2737,"y":459,"c":10.55},{"p":39,"x":2738,"y":526,"c":10.55},{"p":39,"x":2699,"y":429,"c":10.55},
{"p":10,"x":2708,"y":295,"c":11.1},{"p":10,"x":2714,"y":292,"c":11.1},{"p":10,"x":2714,"y":366,"c":11.1},{"p":10,"x":2735,"y":416,"c":11.1},{"p":10,"x":2737,"y":459,"c":11.1},{"p":10,"x":2708,"y":394,"c":11.1},
{"p":40,"x":2714,"y":292,"c":11.5},{"p":40,"x":2720,"y":289,"c":11.5},{"p":40,"x":2720,"y":339,"c":11.5},{"p":40,"x":2734,"y":374,"c":11.5},{"p":40,"x":2735,"y":416,"c":11.5},{"p":40,"x":2714,"y":366,"c":11.5},
{"p":11,"x":2720,"y":289,"c":12.1},{"p":11,"x":2732,"y":282,"c":12.1},{"p":11,"x":2734,"y":374,"c":12.1},{"p":11,"x":2720,"y":339,"c":12.1},
{"p":50,"x":2740,"y":593,"c":6.3},{"p":50,"x":2745,"y":300,"c":6.3},{"p":50,"x":2800,"y":290,"c":6.3},{"p":50,"x":2752,"y":946,"c":6.3},{"p":50,"x":2751,"y":948,"c":6.3},{"p":50,"x":2742,"y":832,"c":6.3},
{"p":12,"x":2732,"y":282,"c":3.7},{"p":12,"x":2738,"y":255,"c":3.7},{"p":12,"x":2745,"y":245,"c":3.7},{"p":12,"x":2751,"y":648,"c":3.7},{"p":12,"x":2743,"y":648,"c":3.7},
{"p":13,"x":2743,"y":648,"c":5},{"p":13,"x":2751,"y":648,"c":5},{"p":13,"x":2751,"y":896,"c":5},
{"p":14,"x":2745,"y":245,"c":6.8},{"p":14,"x":2751,"y":232,"c":6.8},{"p":14,"x":2757,"y":299,"c":6.8},{"p":14,"x":2748,"y":299,"c":6.8},
{"p":15,"x":2748,"y":299,"c":6},{"p":15,"x":2757,"y":299,"c":6},{"p":15,"x":2757,"y":598,"c":6},{"p":15,"x":2751,"y":648,"c":6},
{"p":16,"x":2751,"y":232,"c":9.2},{"p":16,"x":2770,"y":242,"c":9.2},{"p":16,"x":2768,"y":349,"c":9.2},{"p":16,"x":2757,"y":598,"c":9.2},{"p":16,"x":2757,"y":299,"c":9.2},
{"p":17,"x":2770,"y":242,"c":7.3},{"p":17,"x":2781,"y":245,"c":7.3},{"p":17,"x":2779,"y":349,"c":7.3},{"p":17,"x":2762,"y":720,"c":7.3},{"p":17,"x":2752,"y":896,"c":7.3},{"p":17,"x":2751,"y":648,"c":7.3},{"p":17,"x":2757,"y":598,"c":7.3},{"p":17,"x":2768,"y":349,"c":7.3},
{"p":18,"x":2781,"y":245,"c":3.6},{"p":18,"x":2788,"y":265,"c":3.6},{"p":18,"x":2798,"y":290,"c":3.6},{"p":18,"x":2774,"y":598,"c":3.6},{"p":18,"x":2761,"y":747,"c":3.6},{"p":18,"x":2752,"y":896,"c":3.6},{"p":18,"x":2762,"y":720,"c":3.6},{"p":18,"x":2779,"y":349,"c":3.6},
{"p":19,"x":2798,"y":290,"c":6.5},{"p":19,"x":2833,"y":297,"c":6.5},{"p":19,"x":2788,"y":697,"c":6.5},{"p":19,"x":2752,"y":936,"c":6.5},
{"p":20,"x":2833,"y":297,"c":6.05},{"p":20,"x":2882,"y":309,"c":6.05},{"p":20,"x":2888,"y":317,"c":6.05},{"p":20,"x":2797,"y":747,"c":6.05},{"p":20,"x":2752,"y":936,"c":6.05},{"p":20,"x":2788,"y":697,"c":6.05},
{"p":21,"x":2888,"y":317,"c":6.95},{"p":21,"x":2911,"y":280,"c":6.95},{"p":21,"x":2950,"y":285,"c":6.95},{"p":21,"x":2820,"y":730,"c":6.95},{"p":21,"x":2752,"y":936,"c":6.95},{"p":21,"x":2797,"y":747,"c":6.95},
{"p":22,"x":2950,"y":285,"c":7.5},{"p":22,"x":3000,"y":292,"c":7.5},{"p":22,"x":2859,"y":702,"c":7.5},{"p":22,"x":2752,"y":936,"c":7.5},{"p":22,"x":2820,"y":730,"c":7.5},
{"p":23,"x":3000,"y":292,"c":6.4},{"p":23,"x":3040,"y":296,"c":6.4},{"p":23,"x":2904,"y":598,"c":6.4},{"p":23,"x":2752,"y":940,"c":6.4},{"p":23,"x":2859,"y":702,"c":6.4},
{"p":24,"x":3040,"y":296,"c":9},{"p":24,"x":3058,"y":265,"c":9},{"p":24,"x":3064,"y":304,"c":9},{"p":24,"x":2989,"y":459,"c":9},{"p":24,"x":2877,"y":697,"c":9},{"p":24,"x":2752,"y":942,"c":9},{"p":24,"x":2904,"y":598,"c":9},
{"p":25,"x":3064,"y":304,"c":7.4},{"p":25,"x":3078,"y":327,"c":7.4},{"p":25,"x":2922,"y":598,"c":7.4},{"p":25,"x":2752,"y":944,"c":7.4},{"p":25,"x":2877,"y":697,"c":7.4},{"p":25,"x":2989,"y":459,"c":7.4},
{"p":26,"x":3078,"y":327,"c":5.9},{"p":26,"x":3105,"y":304,"c":5.9},{"p":26,"x":3123,"y":304,"c":5.9},{"p":26,"x":2960,"y":623,"c":5.9},{"p":26,"x":2752,"y":946,"c":5.9},{"p":26,"x":2922,"y":598,"c":5.9},
{"p":27,"x":3123,"y":304,"c":7.2},{"p":27,"x":3165,"y":304,"c":7.2},{"p":27,"x":2751,"y":948,"c":7.2}],
"contB":[{"x":2612,"y":772,"u":2641,"v":941},{"x":2647,"y":326,"u":2637,"v":668},{"x":2637,"y":668,"u":2730,"v":946},{"x":2676,"y":311,"u":2672,"v":538},{"x":2672,"y":538,"u":2743,"v":722},{"x":2708,"y":295,"u":2708,"v":394},{"x":2708,"y":394,"u":2737,"v":459},{"x":2783,"y":548,"u":2803,"v":697},{"x":3000,"y":295,"u":2859,"v":702},{"x":3038,"y":300,"u":2908,"v":623},{"x":3065,"y":319,"u":2859,"v":757},{"x":2752,"y":324,"u":2752,"v":896},{"x":2895,"y":314,"u":2792,"v":757},{"x":3114,"y":319,"u":2940,"v":640}],
"frames":[
{"x":1265,"y":220,"u":1265,"v":936},{"x":1335,"y":220,"u":1335,"v":936},{"x":1265,"y":220,"u":1335,"v":220},{"x":1265,"y":936,"u":1335,"v":936},
{"x":3460,"y":220,"u":3460,"v":936},{"x":3530,"y":220,"u":3530,"v":936},{"x":3460,"y":220,"u":3530,"v":220},{"x":3460,"y":936,"u":3530,"v":936},
{"x":2333,"y":1590,"u":2333,"v":2273},{"x":2403,"y":1590,"u":2403,"v":2273},{"x":2333,"y":1590,"u":2403,"v":1590},{"x":2333,"y":2273,"u":2403,"v":2273},
{"x":1335,"y":228,"u":1352,"v":228},{"x":1335,"y":298,"u":1352,"v":298},{"x":1335,"y":368,"u":1352,"v":368},{"x":1335,"y":438,"u":1352,"v":438},{"x":1335,"y":508,"u":1352,"v":508},{"x":1335,"y":578,"u":1352,"v":578},{"x":1335,"y":648,"u":1352,"v":648},{"x":1335,"y":718,"u":1352,"v":718},{"x":1335,"y":788,"u":1352,"v":788},{"x":1335,"y":858,"u":1352,"v":858},{"x":1335,"y":928,"u":1352,"v":928},
{"x":3530,"y":228,"u":3547,"v":228},{"x":3530,"y":298,"u":3547,"v":298},{"x":3530,"y":368,"u":3547,"v":368},{"x":3530,"y":438,"u":3547,"v":438},{"x":3530,"y":508,"u":3547,"v":508},{"x":3530,"y":578,"u":3547,"v":578},{"x":3530,"y":648,"u":3547,"v":648},{"x":3530,"y":718,"u":3547,"v":718},{"x":3530,"y":788,"u":3547,"v":788},{"x":3530,"y":858,"u":3547,"v":858},{"x":3530,"y":928,"u":3547,"v":928},
{"x":2403,"y":1599,"u":2420,"v":1599},{"x":2403,"y":1666,"u":2420,"v":1666},{"x":2403,"y":1733,"u":2420,"v":1733},{"x":2403,"y":1800,"u":2420,"v":1800},{"x":2403,"y":1866,"u":2420,"v":1866},{"x":2403,"y":1933,"u":2420,"v":1933},{"x":2403,"y":2000,"u":2420,"v":2000},{"x":2403,"y":2066,"u":2420,"v":2066},{"x":2403,"y":2133,"u":2420,"v":2133},{"x":2403,"y":2200,"u":2420,"v":2200},{"x":2403,"y":2266,"u":2420,"v":2266}],
"blackbars":[{"x":1265,"y":932,"u":1335,"v":932},{"x":3460,"y":932,"u":3530,"v":932},{"x":2333,"y":2270,"u":2403,"v":2270}],
"barEnds":[{"x":1363,"y":228,"t":"21.10"},{"x":1363,"y":928,"t":"0.7000"},{"x":3558,"y":228,"t":"21.10"},{"x":3558,"y":928,"t":"0.7000"},{"x":2431,"y":1599,"t":"8.040"},{"x":2431,"y":2266,"t":"0.6800"}],
"parens":[{"x":645,"y":63,"t":"("},{"x":711,"y":63,"t":")"},{"x":2822,"y":63,"t":"("},{"x":2892,"y":63,"t":")"},{"x":1739,"y":1443,"t":"("},{"x":1801,"y":1443,"t":")"}],
"panelTitles":[{"x":678,"y":63,"t":"a"},{"x":2857,"y":63,"t":"b"},{"x":1770,"y":1443,"t":"c"}]
},
"encoding":{
"x":{"field":"x","type":"quantitative","axis":null,"scale":{"domain":[0,3666],"nice":false}},
"y":{"field":"y","type":"quantitative","axis":null,"scale":{"domain":[2611,0],"nice":false}}
},
"resolve":{"scale":{"x":"independent","y":"independent","fill":"independent","stroke":"independent"}},
"layer":[
{"data":{"name":"grid3"},"mark":{"type":"rule","color":"#dcdcdc","strokeWidth":1.6},"encoding":{"x2":{"field":"u"},"y2":{"field":"v"}}},
{"data":{"name":"box3"},"mark":{"type":"rule","color":"#8c8c8c","strokeWidth":2},"encoding":{"x2":{"field":"u"},"y2":{"field":"v"}}},
{"data":{"name":"ax3"},"mark":{"type":"rule","color":"#222222","strokeWidth":2.4},"encoding":{"x2":{"field":"u"},"y2":{"field":"v"}}},
{"data":{"name":"grid3"},"mark":{"type":"rule","color":"#dcdcdc","strokeWidth":1.6},"encoding":{
"x":{"field":"x","type":"quantitative","axis":null,"scale":{"domain":[-1158,2645],"nice":false}},
"y":{"field":"y","type":"quantitative","axis":null,"scale":{"domain":[1290,-1455],"nice":false}},
"x2":{"field":"u"},"y2":{"field":"v"}}},
{"data":{"name":"box3"},"mark":{"type":"rule","color":"#8c8c8c","strokeWidth":2},"encoding":{
"x":{"field":"x","type":"quantitative","axis":null,"scale":{"domain":[-1158,2645],"nice":false}},
"y":{"field":"y","type":"quantitative","axis":null,"scale":{"domain":[1290,-1455],"nice":false}},
"x2":{"field":"u"},"y2":{"field":"v"}}},
{"data":{"name":"ax3"},"mark":{"type":"rule","color":"#222222","strokeWidth":2.4},"encoding":{
"x":{"field":"x","type":"quantitative","axis":null,"scale":{"domain":[-1158,2645],"nice":false}},
"y":{"field":"y","type":"quantitative","axis":null,"scale":{"domain":[1290,-1455],"nice":false}},
"x2":{"field":"u"},"y2":{"field":"v"}}},
{"data":{"name":"gridB"},"mark":{"type":"rule","color":"#dcdcdc","strokeWidth":1.6},"encoding":{"x2":{"field":"u"},"y2":{"field":"v"}}},
{"data":{"name":"boxB"},"mark":{"type":"rule","color":"#9a9a9a","strokeWidth":2},"encoding":{"x2":{"field":"u"},"y2":{"field":"v"}}},
{"data":{"name":"axB"},"mark":{"type":"rule","color":"#222222","strokeWidth":2.4},"encoding":{"x2":{"field":"u"},"y2":{"field":"v"}}},
{"data":{"name":"surfA"},"mark":{"type":"line","interpolate":"linear-closed","order":false,"strokeWidth":1.2},"encoding":{
"detail":{"field":"p"},
"fill":{"field":"c","type":"quantitative","legend":null,"scale":{"domain":[0.7,1.72,2.74,3.74,4.98,6.2,6.82,7.37,9.06,10.9,12.53,14.16,17.02,19.06,21.1],"range":["#5a0078","#7a00b0","#4a00e0","#0000ff","#0090ff","#00ffff","#00ff90","#00ff00","#99ff00","#ffff00","#ff9000","#ff0000","#ff0000","#a80000","#550000"]}},
"stroke":{"field":"c","type":"quantitative","legend":null,"scale":{"domain":[0.7,1.72,2.74,3.74,4.98,6.2,6.82,7.37,9.06,10.9,12.53,14.16,17.02,19.06,21.1],"range":["#5a0078","#7a00b0","#4a00e0","#0000ff","#0090ff","#00ffff","#00ff90","#00ff00","#99ff00","#ffff00","#ff9000","#ff0000","#ff0000","#a80000","#550000"]}}}},
{"data":{"name":"contA"},"mark":{"type":"rule","color":"#333333","opacity":0.65,"strokeWidth":1.6},"encoding":{"x2":{"field":"u"},"y2":{"field":"v"}}},
{"data":{"name":"surfB"},"mark":{"type":"line","interpolate":"linear-closed","order":false,"strokeWidth":1.2},"encoding":{
"detail":{"field":"p"},
"fill":{"field":"c","type":"quantitative","legend":null,"scale":{"domain":[0.7,1.72,2.74,3.74,4.98,6.2,6.82,7.37,9.06,10.9,12.53,14.16,17.02,19.06,21.1],"range":["#5a0078","#7a00b0","#4a00e0","#0000ff","#0090ff","#00ffff","#00ff90","#00ff00","#99ff00","#ffff00","#ff9000","#ff0000","#ff0000","#a80000","#550000"]}},
"stroke":{"field":"c","type":"quantitative","legend":null,"scale":{"domain":[0.7,1.72,2.74,3.74,4.98,6.2,6.82,7.37,9.06,10.9,12.53,14.16,17.02,19.06,21.1],"range":["#5a0078","#7a00b0","#4a00e0","#0000ff","#0090ff","#00ffff","#00ff90","#00ff00","#99ff00","#ffff00","#ff9000","#ff0000","#ff0000","#a80000","#550000"]}}}},
{"data":{"name":"contB"},"mark":{"type":"rule","color":"#333333","opacity":0.55,"strokeWidth":1.6},"encoding":{"x2":{"field":"u"},"y2":{"field":"v"}}},
{"data":{"name":"surfC"},"mark":{"type":"line","interpolate":"linear-closed","order":false,"strokeWidth":1.2},"encoding":{
"x":{"field":"x","type":"quantitative","axis":null,"scale":{"domain":[-1158,2645],"nice":false}},
"y":{"field":"y","type":"quantitative","axis":null,"scale":{"domain":[1290,-1455],"nice":false}},
"detail":{"field":"p"},
"fill":{"field":"c","type":"quantitative","legend":null,"scale":{"domain":[0.68,1.048,1.416,1.777,2.226,2.667,2.888,3.087,3.698,4.36,4.949,5.538,6.568,7.304,8.04],"range":["#5a0078","#7a00b0","#4a00e0","#0000ff","#0090ff","#00ffff","#00ff90","#00ff00","#99ff00","#ffff00","#ff9000","#ff0000","#ff0000","#a80000","#550000"]}},
"stroke":{"field":"c","type":"quantitative","legend":null,"scale":{"domain":[0.68,1.048,1.416,1.777,2.226,2.667,2.888,3.087,3.698,4.36,4.949,5.538,6.568,7.304,8.04],"range":["#5a0078","#7a00b0","#4a00e0","#0000ff","#0090ff","#00ffff","#00ff90","#00ff00","#99ff00","#ffff00","#ff9000","#ff0000","#ff0000","#a80000","#550000"]}}}},
{"data":{"name":"contC"},"mark":{"type":"rule","color":"#333333","opacity":0.6,"strokeWidth":1.6},"encoding":{
"x":{"field":"x","type":"quantitative","axis":null,"scale":{"domain":[-1158,2645],"nice":false}},
"y":{"field":"y","type":"quantitative","axis":null,"scale":{"domain":[1290,-1455],"nice":false}},
"x2":{"field":"u"},"y2":{"field":"v"}}},
{"data":{"values":[{"x":1300,"y":500,"c":0.7},{"x":1300,"y":500,"c":21.1}]},"mark":{"type":"rect"},"encoding":{
"x2":{"field":"x"},"y2":{"field":"y"},
"fill":{"field":"c","type":"quantitative","scale":{"domain":[0.7,1.72,2.74,3.74,4.98,6.2,6.82,7.37,9.06,10.9,12.53,14.16,17.02,19.06,21.1],"range":["#5a0078","#7a00b0","#4a00e0","#0000ff","#0090ff","#00ffff","#00ff90","#00ff00","#99ff00","#ffff00","#ff9000","#ff0000","#ff0000","#a80000","#550000"]},
"legend":{"title":"C2y","orient":"none","legendX":1265,"legendY":152,"gradientLength":700,"gradientThickness":70,"values":[2.74,4.78,6.82,8.86,10.9,12.94,14.98,17.02,19.06],"format":".4r","direction":"vertical","labelFont":"Liberation Sans","labelFontSize":27,"labelColor":"#333333","labelOffset":28,"labelOverlap":false,"labelBaseline":"middle","titleFont":"Liberation Sans","titleFontSize":42,"titleFontWeight":"normal","titleColor":"#333333","titlePadding":34,"gradientStrokeWidth":0}}}},
{"data":{"values":[{"x":3490,"y":500,"c":0.7},{"x":3490,"y":500,"c":21.1}]},"mark":{"type":"rect"},"encoding":{
"x2":{"field":"x"},"y2":{"field":"y"},
"fill":{"field":"c","type":"quantitative","scale":{"domain":[0.7,1.72,2.74,3.74,4.98,6.2,6.82,7.37,9.06,10.9,12.53,14.16,17.02,19.06,21.1],"range":["#5a0078","#7a00b0","#4a00e0","#0000ff","#0090ff","#00ffff","#00ff90","#00ff00","#99ff00","#ffff00","#ff9000","#ff0000","#ff0000","#a80000","#550000"]},
"legend":{"title":"C2y","orient":"none","legendX":3460,"legendY":152,"gradientLength":700,"gradientThickness":70,"values":[2.74,4.78,6.82,8.86,10.9,12.94,14.98,17.02,19.06],"format":".4r","direction":"vertical","labelFont":"Liberation Sans","labelFontSize":27,"labelColor":"#333333","labelOffset":28,"labelOverlap":false,"labelBaseline":"middle","titleFont":"Liberation Sans","titleFontSize":42,"titleFontWeight":"normal","titleColor":"#333333","titlePadding":34,"gradientStrokeWidth":0}}}},
{"data":{"values":[{"x":2360,"y":1900,"c":0.68},{"x":2360,"y":1900,"c":8.04}]},"mark":{"type":"rect"},"encoding":{
"x2":{"field":"x"},"y2":{"field":"y"},
"fill":{"field":"c","type":"quantitative","scale":{"domain":[0.68,1.048,1.416,1.777,2.226,2.667,2.888,3.087,3.698,4.36,4.949,5.538,6.568,7.304,8.04],"range":["#5a0078","#7a00b0","#4a00e0","#0000ff","#0090ff","#00ffff","#00ff90","#00ff00","#99ff00","#ffff00","#ff9000","#ff0000","#ff0000","#a80000","#550000"]},
"legend":{"title":"C2y","orient":"none","legendX":2333,"legendY":1524,"gradientLength":667,"gradientThickness":70,"values":[1.416,2.152,2.888,3.624,4.36,5.096,5.832,6.568,7.304],"format":".4r","direction":"vertical","labelFont":"Liberation Sans","labelFontSize":27,"labelColor":"#333333","labelOffset":28,"labelOverlap":false,"labelBaseline":"middle","titleFont":"Liberation Sans","titleFontSize":42,"titleFontWeight":"normal","titleColor":"#333333","titlePadding":33,"gradientStrokeWidth":0}}}},
{"data":{"name":"frames"},"mark":{"type":"rule","color":"#555555","strokeWidth":2.4},"encoding":{"x2":{"field":"u"},"y2":{"field":"v"}}},
{"data":{"name":"blackbars"},"mark":{"type":"rule","color":"#000000","strokeWidth":7},"encoding":{"x2":{"field":"u"},"y2":{"field":"v"}}},
{"data":{"name":"barEnds"},"mark":{"type":"text","font":"Liberation Sans","fontSize":27,"color":"#333333","align":"left","baseline":"middle"},"encoding":{"text":{"field":"t"}}},
{"data":{"name":"panelTitles"},"mark":{"type":"text","font":"Liberation Serif","fontSize":78,"fontWeight":"bold","color":"#000000","align":"center","baseline":"middle"},"encoding":{"text":{"field":"t"}}},
{"data":{"name":"parens"},"mark":{"type":"text","font":"Liberation Serif","fontSize":78,"color":"#000000","align":"center","baseline":"middle"},"encoding":{"text":{"field":"t"}}},
{"data":{"name":"zlab"},"mark":{"type":"text","font":"Liberation Sans","fontSize":25,"color":"#333333","align":"center","baseline":"middle"},"encoding":{"text":{"field":"t"}}},
{"data":{"name":"m1lab"},"mark":{"type":"text","font":"Liberation Sans","fontSize":22,"color":"#444444","align":"center","baseline":"middle","angle":320},"encoding":{"text":{"field":"t"}}},
{"data":{"name":"m2lab"},"mark":{"type":"text","font":"Liberation Sans","fontSize":23,"color":"#444444","align":"center","baseline":"middle","angle":20},"encoding":{"text":{"field":"t"}}},
{"data":{"values":[{"x":48,"y":665,"t":"Promoter Fermi Energy (eV)"}]},"mark":{"type":"text","font":"Liberation Sans","fontSize":38,"color":"#333333","align":"center","baseline":"middle","angle":86},"encoding":{"text":{"field":"t"}}},
{"data":{"values":[{"x":323,"y":1153,"t":"M1_atom_number"}]},"mark":{"type":"text","font":"Liberation Sans","fontSize":32,"color":"#444444","align":"center","baseline":"middle","angle":21},"encoding":{"text":{"field":"t"}}},
{"data":{"values":[{"x":1092,"y":1135,"t":"M2_mol"}]},"mark":{"type":"text","font":"Liberation Sans","fontSize":30,"color":"#444444","align":"center","baseline":"middle","angle":334},"encoding":{"text":{"field":"t"}}},
{"data":{"name":"zlab"},"mark":{"type":"text","font":"Liberation Sans","fontSize":25,"color":"#333333","align":"center","baseline":"middle"},"encoding":{
"x":{"field":"x","type":"quantitative","axis":null,"scale":{"domain":[-1158,2645],"nice":false}},
"y":{"field":"y","type":"quantitative","axis":null,"scale":{"domain":[1290,-1455],"nice":false}},"text":{"field":"t"}}},
{"data":{"name":"m1lab"},"mark":{"type":"text","font":"Liberation Sans","fontSize":22,"color":"#444444","align":"center","baseline":"middle","angle":320},"encoding":{
"x":{"field":"x","type":"quantitative","axis":null,"scale":{"domain":[-1158,2645],"nice":false}},
"y":{"field":"y","type":"quantitative","axis":null,"scale":{"domain":[1290,-1455],"nice":false}},"text":{"field":"t"}}},
{"data":{"name":"m2lab"},"mark":{"type":"text","font":"Liberation Sans","fontSize":23,"color":"#444444","align":"center","baseline":"middle","angle":20},"encoding":{
"x":{"field":"x","type":"quantitative","axis":null,"scale":{"domain":[-1158,2645],"nice":false}},
"y":{"field":"y","type":"quantitative","axis":null,"scale":{"domain":[1290,-1455],"nice":false}},"text":{"field":"t"}}},
{"data":{"values":[{"x":1160,"y":2019,"t":"Promoter Fermi Energy (eV)"}]},"mark":{"type":"text","font":"Liberation Sans","fontSize":37,"color":"#333333","align":"center","baseline":"middle","angle":86},"encoding":{"text":{"field":"t"}}},
{"data":{"values":[{"x":1427,"y":2480,"t":"M1_atomic number"}]},"mark":{"type":"text","font":"Liberation Sans","fontSize":29,"color":"#444444","align":"center","baseline":"middle","angle":20},"encoding":{"text":{"field":"t"}}},
{"data":{"values":[{"x":2166,"y":2461,"t":"M2_mol"}]},"mark":{"type":"text","font":"Liberation Sans","fontSize":29,"color":"#444444","align":"center","baseline":"middle","angle":334},"encoding":{"text":{"field":"t"}}},
{"data":{"name":"ylabB"},"mark":{"type":"text","font":"Liberation Sans","fontSize":30,"color":"#333333","align":"right","baseline":"middle"},"encoding":{"text":{"field":"t"}}},
{"data":{"name":"xlabB"},"mark":{"type":"text","font":"Liberation Sans","fontSize":30,"color":"#333333","align":"right","baseline":"middle","angle":270},"encoding":{"text":{"field":"t"}}},
{"data":{"values":[{"x":2366,"y":662,"t":"M2_mol"}]},"mark":{"type":"text","font":"Liberation Sans","fontSize":37,"color":"#333333","align":"center","baseline":"middle","angle":270},"encoding":{"text":{"field":"t"}}},
{"data":{"values":[{"x":2845,"y":1121,"t":"M1_atom_number"}]},"mark":{"type":"text","font":"Liberation Sans","fontSize":38,"color":"#333333","align":"center","baseline":"middle"},"encoding":{"text":{"field":"t"}}},
{"data":{"values":[{"x":3241,"y":1128,"t":"Promoter Fermi Energy (eV)"}]},"mark":{"type":"text","font":"Liberation Sans","fontSize":7,"color":"#999999","align":"center","baseline":"middle","angle":47},"encoding":{"text":{"field":"t"}}}
]
}
